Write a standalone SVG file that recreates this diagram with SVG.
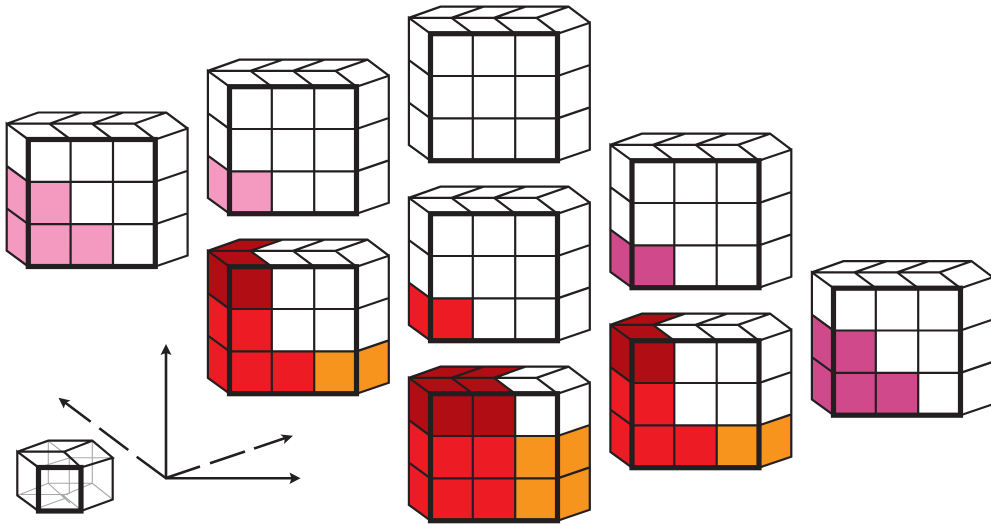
<svg xmlns="http://www.w3.org/2000/svg" width="991" height="525" viewBox="0 0 991 525">
<style>
.w{fill:none;stroke:#231f20;stroke-width:2.2;stroke-linejoin:miter}
.t{fill:none;stroke:#231f20;stroke-width:5.2;stroke-linejoin:miter;stroke-linecap:square}
.g{fill:none;stroke:#a7a9ac;stroke-width:1.1}
.a{fill:none;stroke:#231f20;stroke-width:2.6}
.p{fill:#f49ac1}.m{fill:#d04a8b}.d{fill:#b00d14}.r{fill:#ed1c24}.o{fill:#f7941e}
</style>
<defs>
<g id="wire">
<path class="w" d="M0 0L-21.600-15.800V111.200L0 127M-21.600-15.800H106L127 0L159.300-11V116L127 127M-21.600 26.500L0 42.300M-21.600 68.900L0 84.700M127 42.300L159.300 31.300M127 84.700L159.300 73.700M-21.600-15.800L10-27H138L159.300-11M106-15.800L138-27M21-15.800L53-27M63.600-15.800L95-27M21-15.800L42.300 0M63.600-15.800L84.700 0M42.300 0V127M84.700 0V127M0 42.300H127M0 84.700H127"/>
<rect class="t" width="127" height="127"/>
</g>
<path id="f" d="M0 0h42.330v42.330h-42.330z"/>
<path id="l" d="M0 0L-21.600-15.800V26.530L0 42.330z"/>
<path id="rt" d="M127 0L159.300-11V31.330L127 42.330z"/>
<path id="tf" d="M0 0H42.330L21-15.800H-21.600z"/>
<path id="tb" d="M-21.600-15.800H21L53-27H10z"/>
</defs>
<g id="connectors">
<path class="a" d="M166 478.300V352M165 478.300H292"/>
<path class="a" d="M166 478.300L136.700 456.700M128.300 450L99.300 428.300M90.700 421.700L64 401.800M166 478L200 466.600M210 463.300L245 451.600M254 448.600L286 437.800"/>
<path fill="#231f20" d="M166 344L171.500 355L166 353L160.500 355zM300.500 478.300L289.500 484L291.500 478.300L289.500 472.600zM293 435.700L284 444L284.800 438.500L280.300 434.500zM58.500 397.800L70.500 400.500L65.500 403L63.800 408.500z"/>
</g>
<g id="small-cube">
<path class="g" d="M48.300 441V483.300H92.300V441M17.300 495.500L48.300 483.300M92.300 483.300L112.700 499.500M48.300 441L70 457.700H112.700M38.500 467.500L70 457.700M69.300 457.700V494M17.300 494.500H68M92.300 483.300L62 496M62 494.500L81 510M48.300 483.300L70 503M38.500 508L66 498"/>
<path class="w" d="M38.500 467.500L17.300 451.700V495.500L38.500 511M17.300 451.700L48.300 440.700H92.300L112.700 457.700L81 467.500M17.300 451.700H64L81 467.500M64 451.700L92.300 440.700M112.700 457.700V499.500L81 511"/>
<rect class="t" x="38.500" y="467.500" width="42.500" height="43.500"/>
</g>
<g id="cube-1" transform="translate(28.300 139.500)">
<use href="#l" class="p" y="42.330"/><use href="#l" class="p" y="84.670"/>
<use href="#f" class="p" y="42.330"/><use href="#f" class="p" y="84.670"/><use href="#f" class="p" x="42.330" y="84.670"/>
<use href="#wire"/>
</g>
<g id="cube-2" transform="translate(229.500 86.700)">
<use href="#l" class="p" y="84.670"/><use href="#f" class="p" y="84.670"/>
<use href="#wire"/>
</g>
<g id="cube-3" transform="translate(229.500 266.700)">
<use href="#tf" class="d"/><use href="#tb" class="d"/>
<use href="#l" class="d"/><use href="#l" class="r" y="42.330"/><use href="#l" class="r" y="84.670"/>
<use href="#f" class="d"/><use href="#f" class="r" y="42.330"/><use href="#f" class="r" y="84.670"/><use href="#f" class="r" x="42.330" y="84.670"/><use href="#f" class="o" x="84.670" y="84.670"/>
<use href="#rt" class="o" y="84.670"/>
<use href="#wire"/>
</g>
<g id="cube-4" transform="translate(430.500 33.700)">
<use href="#wire"/>
</g>
<g id="cube-5" transform="translate(430.500 213.700)">
<use href="#l" class="r" y="84.670"/><use href="#f" class="r" y="84.670"/>
<use href="#wire"/>
</g>
<g id="cube-6" transform="translate(430.500 393.700)">
<use href="#tf" class="d"/><use href="#tb" class="d"/><use href="#tf" class="d" x="42.330"/><use href="#tb" class="d" x="42.330"/>
<use href="#l" class="d"/><use href="#l" class="r" y="42.330"/><use href="#l" class="r" y="84.670"/>
<use href="#f" class="d"/><use href="#f" class="d" x="42.330"/>
<use href="#f" class="r" y="42.330"/><use href="#f" class="r" x="42.330" y="42.330"/><use href="#f" class="o" x="84.670" y="42.330"/>
<use href="#f" class="r" y="84.670"/><use href="#f" class="r" x="42.330" y="84.670"/><use href="#f" class="o" x="84.670" y="84.670"/>
<use href="#rt" class="o" y="42.330"/><use href="#rt" class="o" y="84.670"/>
<use href="#wire"/>
</g>
<g id="cube-7" transform="translate(632 160.700)">
<use href="#l" class="m" y="84.670"/><use href="#f" class="m" y="84.670"/>
<use href="#wire"/>
</g>
<g id="cube-8" transform="translate(632 340.700)">
<use href="#tf" class="d"/><use href="#tb" class="d"/>
<use href="#l" class="d"/><use href="#l" class="r" y="42.330"/><use href="#l" class="r" y="84.670"/>
<use href="#f" class="d"/><use href="#f" class="r" y="42.330"/><use href="#f" class="r" y="84.670"/><use href="#f" class="r" x="42.330" y="84.670"/><use href="#f" class="o" x="84.670" y="84.670"/>
<use href="#rt" class="o" y="84.670"/>
<use href="#wire"/>
</g>
<g id="cube-9" transform="translate(833.500 288.200)">
<use href="#l" class="m" y="42.330"/><use href="#l" class="m" y="84.670"/>
<use href="#f" class="m" y="42.330"/><use href="#f" class="m" y="84.670"/><use href="#f" class="m" x="42.330" y="84.670"/>
<use href="#wire"/>
</g>
</svg>
